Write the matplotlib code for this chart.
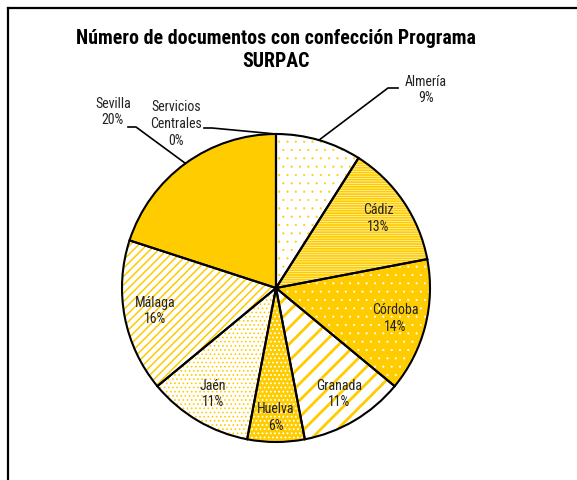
import numpy as np
import matplotlib
matplotlib.use('Agg')
import matplotlib.pyplot as plt
from matplotlib.lines import Line2D

# datos (porcentajes, sentido horario desde arriba)
provincias = ['Almería', 'Cádiz', 'Córdoba', 'Granada', 'Huelva',
              'Jaén', 'Málaga', 'Sevilla', 'Servicios\nCentrales']
porcentajes = [9, 13, 14, 11, 6, 11, 16, 20, 0]

oro = '#FFCC00'
fondos = ['white', 'white', oro, 'white', oro, 'white', 'white', oro, oro]
tramas = ['..', '-------', '..', '//', '....', '....', '////', '', '']
color_trama = [oro, oro, 'white', oro, 'white', oro, oro, oro, oro]
grosor_trama = [0.3, 1.3, 0.3, 2.0, 0.8, 0.7, 1.1, 1.0, 1.0]

plt.rcParams['font.family'] = ['Roboto Condensed', 'Liberation Sans', 'DejaVu Sans']

fig = plt.figure(figsize=(5.77, 4.8), dpi=100)
cx, cy, r = 276, 288, 154  # centro y radio en pixeles
ax = fig.add_axes([(cx - r) / 577, (480 - cy - r) / 480, 2 * r / 577, 2 * r / 480])

# capa de relleno con tramas
wedges, _ = ax.pie(porcentajes, startangle=90, counterclock=False, radius=1,
                   wedgeprops=dict(linewidth=0))
for w, fc, h, hc, hl in zip(wedges, fondos, tramas, color_trama, grosor_trama):
    w.set_facecolor(fc)
    w.set_edgecolor(hc)
    w.set_hatch(h)
    if hasattr(w, 'set_hatch_linewidth'):
        w.set_hatch_linewidth(hl)

# capa de contornos
ax.pie(porcentajes, startangle=90, counterclock=False, radius=1,
       colors=['none'] * len(porcentajes),
       wedgeprops=dict(edgecolor='black', linewidth=1.5))
ax.set_xlim(-1, 1)
ax.set_ylim(-1, 1)
ax.axis('off')

# etiquetas interiores
total = sum(porcentajes)
acum = np.cumsum([0] + porcentajes)
for i, (nombre, p) in enumerate(zip(provincias, porcentajes)):
    medio = np.deg2rad(90 - 360 * (acum[i] + p / 2) / total)
    if i in (0, 7, 8):
        continue
    d = 0.8 if i not in (4,) else 0.84
    ax.text(d * np.cos(medio), d * np.sin(medio), f'{nombre}\n{p}%',
            ha='center', va='center', fontsize=10, color='#222222',
            linespacing=1.25)


def px(x, y):
    return (x - cx) / r, (cy - y) / r


def borde(i):
    medio = np.deg2rad(90 - 360 * (acum[i] + porcentajes[i] / 2) / total)
    return np.cos(medio), np.sin(medio)


# etiquetas exteriores con lineas guia
exteriores = [
    (0, px(426, 90), [px(398, 88), px(388, 88)]),
    (7, px(113, 112), [px(128, 127), px(136, 127)]),
    (8, px(176, 124), [px(204, 128), px(212, 128)]),
]
for i, pos_txt, codo in exteriores:
    ex, ey = borde(i)
    xs = [codo[0][0], codo[1][0], ex]
    ys = [codo[0][1], codo[1][1], ey]
    ax.plot(xs, ys, color='black', linewidth=1.2, clip_on=False)
    ax.text(pos_txt[0], pos_txt[1], f'{provincias[i]}\n{porcentajes[i]}%',
            ha='center', va='center', fontsize=10, color='#222222',
            linespacing=1.25)

fig.text(276 / 577, 1 - 50 / 480,
         'Número de documentos con confección Programa\nSURPAC',
         ha='center', va='center', fontsize=14.3, fontweight='bold',
         linespacing=1.25)

# marco del area del grafico
fig.add_artist(Line2D([8 / 577, 8 / 577], [0, 1 - 8 / 480], color='black', linewidth=1.6))
fig.add_artist(Line2D([8 / 577, 1], [1 - 8 / 480, 1 - 8 / 480], color='black', linewidth=1.6))

fig.savefig('out.png', dpi=100)
